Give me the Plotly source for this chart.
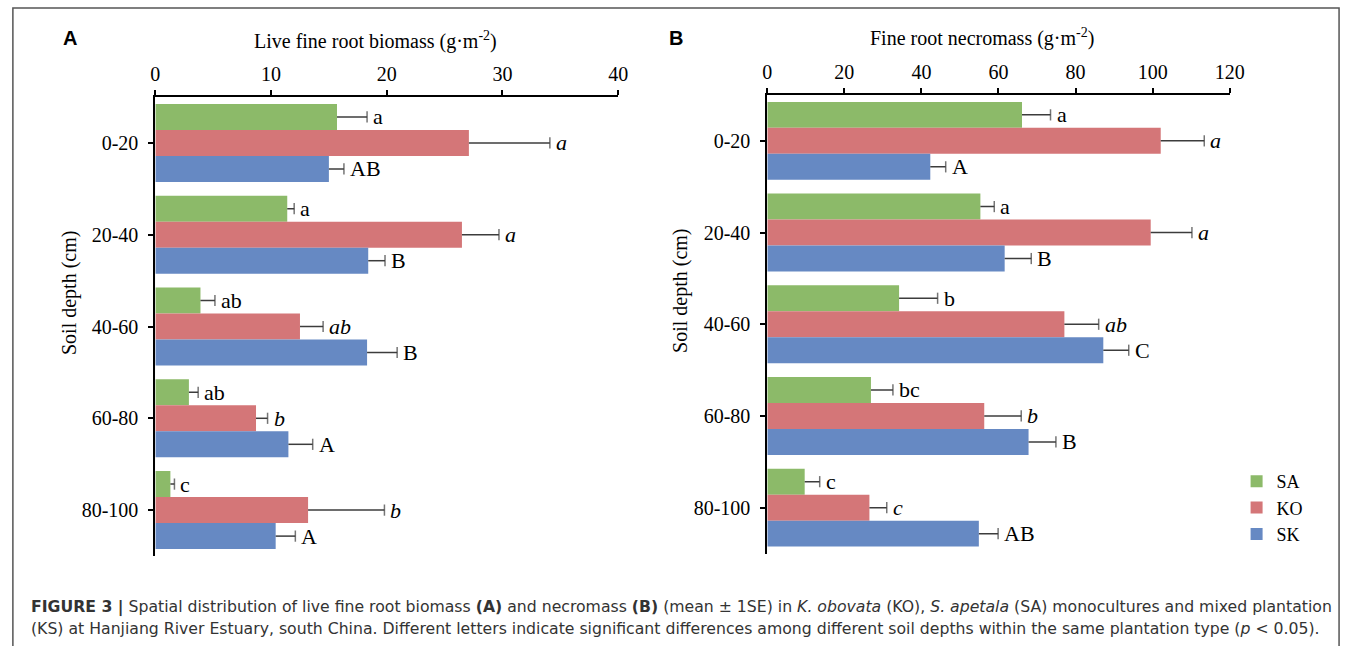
import plotly.graph_objects as go

# ---- data -------------------------------------------------------------
depths = ["0-20", "20-40", "40-60", "60-80", "80-100"]
series = ["SA", "KO", "SK"]

# Live fine root biomass (g m-2), mean and SE
live_sa = [15.7, 11.4, 3.9, 2.9, 1.3]
live_sa_se = [2.6, 0.6, 1.25, 0.8, 0.35]
live_ko = [27.1, 26.5, 12.5, 8.7, 13.2]
live_ko_se = [7.0, 3.2, 2.0, 1.0, 6.6]
live_sk = [15.0, 18.4, 18.3, 11.5, 10.4]
live_sk_se = [1.3, 1.45, 2.6, 2.1, 1.7]

# Fine root necromass (g m-2), mean and SE
necro_sa = [66.1, 55.3, 34.2, 26.9, 9.7]
necro_sa_se = [7.4, 3.6, 10.0, 5.7, 3.9]
necro_ko = [102.1, 99.5, 77.1, 56.3, 26.5]
necro_ko_se = [11.3, 10.7, 8.9, 9.6, 4.5]
necro_sk = [42.3, 61.6, 87.2, 67.8, 54.9]
necro_sk_se = [4.0, 6.9, 6.6, 7.1, 5.0]

# significance letters
live_sa_lbl = ["a", "a", "ab", "ab", "c"]
live_ko_lbl = ["a", "a", "ab", "b", "b"]
live_sk_lbl = ["AB", "B", "B", "A", "A"]
necro_sa_lbl = ["a", "a", "b", "bc", "c"]
necro_ko_lbl = ["a", "a", "ab", "b", "c"]
necro_sk_lbl = ["A", "B", "C", "B", "AB"]

live_ticks = [0, 10, 20, 30, 40]
necro_ticks = [0, 20, 40, 60, 80, 100, 120]

# ---- styling ----------------------------------------------------------
W, H = 1358, 646
COLORS = {"SA": "#8CBA69", "KO": "#D47678", "SK": "#6689C3"}
ERR_COLOR = "#3c3c3c"
SERIF = "Liberation Serif, Times New Roman, serif"
SANS = "Liberation Sans, Arial, sans-serif"
BARGAP = 0.15


def px_x(p):
    return p / W


def px_y(p):
    return 1 - p / H


panels = [
    dict(xa="x", ya="y", data=[(live_sa, live_sa_se, live_sa_lbl),
                                (live_ko, live_ko_se, live_ko_lbl),
                                (live_sk, live_sk_se, live_sk_lbl)],
         xdom=[px_x(152.6), px_x(622.3)], ydom=[px_y(556), px_y(97)],
         rng=[0, 40], ticks=live_ticks, legend=False),
    dict(xa="x2", ya="y2", data=[(necro_sa, necro_sa_se, necro_sa_lbl),
                                  (necro_ko, necro_ko_se, necro_ko_lbl),
                                  (necro_sk, necro_sk_se, necro_sk_lbl)],
         xdom=[px_x(773.7), px_x(1243)], ydom=[px_y(553.5), px_y(95)],
         rng=[0, 120], ticks=necro_ticks, legend=True),
]

fig = go.Figure()
annotations = []
n = len(series)
bar_w = (1 - BARGAP) / n
pos = list(range(len(depths)))

for p in panels:
    for k, (name, (vals, se, lbls)) in enumerate(zip(series, p["data"])):
        fig.add_trace(go.Bar(
            y=pos, x=vals, orientation="h", name=name,
            marker=dict(color=COLORS[name], line=dict(width=0)),
            xaxis=p["xa"], yaxis=p["ya"], legendgroup=name,
            showlegend=p["legend"],
        ))
        offset = (k - (n - 1) / 2) * bar_w
        # one-sided error bars: whisker from the bar end, cap at mean + SE
        ex, ey, esz = [], [], []
        for i, (v, s) in enumerate(zip(vals, se)):
            ex += [v, v + s, None]
            ey += [i + offset, i + offset, None]
            esz += [0, 8, 0]
        fig.add_trace(go.Scatter(
            x=ex, y=ey, mode="lines+markers", xaxis=p["xa"], yaxis=p["ya"],
            line=dict(color=ERR_COLOR, width=1.5),
            marker=dict(symbol="line-ns", size=esz,
                        line=dict(color=ERR_COLOR, width=1.5)),
            showlegend=False, hoverinfo="skip",
        ))
        for i, (v, s, t) in enumerate(zip(vals, se, lbls)):
            txt = f"<i>{t}</i>" if name == "KO" else t
            annotations.append(dict(
                x=v + s, y=i + offset, xref=p["xa"], yref=p["ya"],
                text=txt, showarrow=False, xanchor="left", yanchor="middle",
                xshift=4, font=dict(family=SERIF, size=22, color="black"),
            ))

axis_common = dict(showline=True, linecolor="black", linewidth=2,
                   ticks="outside", ticklen=5, tickwidth=1.5, tickcolor="black",
                   showgrid=False, zeroline=False,
                   tickfont=dict(family=SERIF, size=20, color="black"))

for idx, p in enumerate(panels):
    sfx = "" if idx == 0 else "2"
    fig.update_layout(**{
        f"xaxis{sfx}": dict(domain=p["xdom"], range=p["rng"], side="top",
                            tickvals=p["ticks"], anchor=p["ya"],
                            ticklabelstandoff=1, **axis_common),
        f"yaxis{sfx}": dict(domain=p["ydom"], anchor=p["xa"],
                            range=[len(depths) - 0.5, -0.5],
                            tickvals=pos, ticktext=depths,
                            ticklabelstandoff=6, **axis_common),
    })

# axis titles and panel letters
title_font = dict(family=SERIF, size=20, color="black")
annotations += [
    dict(x=px_x(376), y=px_y(40), text="Live fine root biomass (g·m<sup>-2</sup>)"),
    dict(x=px_x(992), y=px_y(37), text="Fine root necromass (g·m<sup>-2</sup>)"),
    dict(x=px_x(65), y=px_y(293), text="Soil depth (cm)", textangle=-90),
    dict(x=px_x(685), y=px_y(291), text="Soil depth (cm)", textangle=-90),
]
for a in annotations[-4:]:
    a.update(xref="paper", yref="paper", showarrow=False,
             xanchor="center", yanchor="middle", font=title_font)

for lab, x, y in [("A", 66, 38), ("B", 681, 38)]:
    annotations.append(dict(x=px_x(x), y=px_y(y), xref="paper", yref="paper",
                            text=f"<b>{lab}</b>", showarrow=False,
                            xanchor="center", yanchor="middle",
                            font=dict(family=SANS, size=20, color="black")))

# figure caption
cap_font = dict(family="DejaVu Sans, sans-serif", size=15.7, color="#333333")
cap1 = ("<b>FIGURE 3 |</b> Spatial distribution of live fine root biomass <b>(A)</b> "
        "and necromass <b>(B)</b> (mean ± 1SE) in <i>K. obovata</i> (KO), "
        "<i>S. apetala</i> (SA) monocultures and mixed plantation")
cap2 = ("(KS) at Hanjiang River Estuary, south China. Different letters indicate "
        "significant differences among different soil depths within the same "
        "plantation type (<i>p</i> &lt; 0.05).")
for txt, y in [(cap1, 607), (cap2, 628)]:
    annotations.append(dict(x=px_x(24), y=px_y(y), xref="paper", yref="paper",
                            text=txt, showarrow=False, xanchor="left",
                            yanchor="middle", font=cap_font))

fig.update_layout(
    width=W, height=H, margin=dict(l=0, r=0, t=0, b=0),
    paper_bgcolor="white", plot_bgcolor="white",
    barmode="group", bargap=BARGAP, bargroupgap=0,
    annotations=annotations,
    showlegend=True,
    legend=dict(x=px_x(1250), y=px_y(463), xanchor="left", yanchor="top",
                font=dict(family=SERIF, size=18, color="black"),
                bgcolor="rgba(0,0,0,0)", tracegroupgap=0, itemwidth=30,
                traceorder="normal"),
    shapes=[dict(type="rect", xref="paper", yref="paper",
                 x0=px_x(8), x1=px_x(1354), y0=px_y(660), y1=px_y(8),
                 line=dict(color="#555555", width=1.5))],
)

fig.write_html("out.html")
